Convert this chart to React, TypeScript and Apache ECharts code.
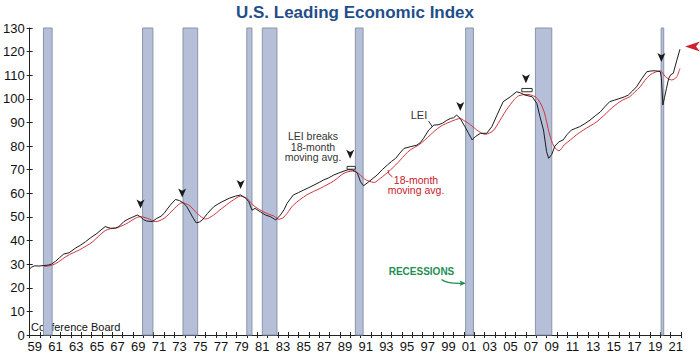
import React, { useEffect, useRef } from "react";
import * as echarts from "echarts";

const yearLabels: string[] = [];
for (let y = 1959; y <= 2021; y++) yearLabels.push(String(y % 100).padStart(2, "0"));

const recessionStarts = [1960.33, 1969.92, 1973.83, 1980.0, 1981.5, 1990.5, 2001.17, 2007.92, 2020.08];
const recessionEnds = [1961.17, 1970.92, 1975.25, 1980.5, 1982.92, 1991.25, 2001.92, 2009.5, 2020.33];

const leiYears = [
  1959.0, 1959.2, 1959.5, 1959.9, 1960.3, 1960.8, 1961.1, 1961.5, 1961.9, 1962.3, 1962.8, 1963.4, 1963.9,
  1964.4, 1964.9, 1965.5, 1965.9, 1966.3, 1966.8, 1967.3, 1967.6, 1968.1, 1968.5, 1968.9, 1969.4, 1969.7,
  1970.0, 1970.3, 1970.85, 1971.3, 1971.7, 1972.0, 1972.3, 1972.6, 1973.1, 1973.5, 1973.9, 1974.2, 1974.5,
  1974.75, 1975.1, 1975.4, 1975.7, 1976.2, 1976.8, 1977.2, 1977.6, 1978.3, 1978.9, 1979.4, 1979.9, 1980.2,
  1980.5, 1980.8, 1981.3, 1981.8, 1982.3, 1982.8, 1983.25, 1983.6, 1983.9, 1984.5, 1985.0, 1985.5, 1986.0,
  1986.5, 1987.0, 1987.4, 1987.9, 1988.4, 1988.9, 1989.4, 1989.8, 1990.2, 1990.5, 1990.7, 1991.0, 1991.3,
  1991.8, 1992.2, 1992.6, 1993.1, 1993.6, 1994.0, 1994.4, 1994.8, 1995.2, 1995.8, 1996.45, 1996.8, 1997.1,
  1997.6, 1998.1, 1998.5, 1998.9, 1999.3, 1999.7, 2000.0, 2000.3, 2000.65, 2001.1, 2001.45, 2001.8, 2002.1,
  2002.6, 2003.2, 2003.7, 2004.2, 2004.8, 2005.5, 2006.1, 2006.5, 2006.9, 2007.6, 2008.05, 2008.36, 2008.7,
  2009.0, 2009.2, 2009.5, 2009.8, 2010.2, 2010.6, 2011.0, 2011.4, 2011.8, 2012.2, 2012.7, 2013.2, 2013.7,
  2014.2, 2014.6, 2015.1, 2015.6, 2016.1, 2016.5, 2016.9, 2017.3, 2017.7, 2018.2, 2018.7, 2019.1, 2019.5,
  2020.0, 2020.1, 2020.25, 2020.4, 2020.6, 2020.8, 2021.0, 2021.25, 2021.6, 2021.9,
];
const leiValues = [
  28.0, 28.8, 29.3, 29.2, 29.4, 29.6, 30.0, 31.2, 32.8, 34.3, 34.8, 36.7, 38.0,
  39.5, 41.2, 43.0, 44.5, 45.9, 45.2, 45.3, 45.8, 48.0, 49.0, 49.8, 50.8, 50.1,
  48.9, 48.3, 48.0, 49.4, 50.3, 51.5, 53.3, 55.0, 57.4, 56.9, 55.8, 54.3, 52.0,
  50.0, 47.5, 47.8, 48.7, 51.5, 54.3, 55.4, 56.4, 57.9, 58.8, 59.3, 57.9, 56.4,
  52.9, 53.6, 52.2, 50.8, 50.1, 48.7, 50.8, 53.0, 55.8, 59.3, 60.3, 61.4, 62.4,
  63.5, 64.6, 65.6, 66.5, 67.7, 68.6, 69.4, 70.0, 69.9, 69.3, 68.5, 64.9, 63.2,
  64.9, 66.3, 67.7, 70.0, 72.0, 73.5, 74.8, 77.0, 79.0, 79.7, 80.4, 81.5, 83.3,
  86.8, 88.9, 89.0, 89.6, 90.8, 91.7, 92.0, 93.1, 91.7, 88.2, 85.4, 82.6, 84.0,
  85.4, 85.4, 88.2, 93.1, 98.8, 100.9, 103.0, 102.5, 101.6, 100.9, 98.1, 92.4, 86.8,
  77.6, 74.8, 76.5, 80.0, 81.8, 82.6, 85.0, 86.8, 87.5, 88.2, 89.5, 91.0, 92.8,
  94.5, 96.5, 98.8, 99.5, 100.2, 100.8, 101.6, 103.3, 105.1, 108.5, 111.5, 111.8, 111.9,
  111.5, 109.0, 97.4, 100.5, 104.5, 108.5, 110.2, 110.8, 116.4, 121.0,
];

const maYears = [
  1960.4, 1961.2, 1961.8, 1962.5, 1963.2, 1963.8, 1964.5, 1965.1, 1965.7, 1966.3, 1966.8, 1967.3, 1967.8,
  1968.3, 1968.8, 1969.2, 1969.7, 1970.4, 1971.2, 1972.0, 1972.5, 1973.0, 1973.75, 1974.4, 1974.8, 1975.2,
  1975.6, 1976.0, 1976.8, 1977.3, 1977.8, 1978.3, 1978.7, 1979.4, 1980.0, 1980.4, 1980.8, 1981.6, 1982.1,
  1982.6, 1983.1, 1983.5, 1983.9, 1984.5, 1985.8, 1987.1, 1988.4, 1989.4, 1990.2, 1990.6, 1991.0, 1991.4,
  1991.8, 1992.3, 1992.9, 1993.4, 1993.9, 1994.4, 1994.85, 1995.3, 1995.8, 1996.6, 1997.2, 1997.75, 1998.2,
  1998.7, 1999.2, 1999.7, 2000.2, 2000.65, 2001.0, 2001.45, 2001.85, 2002.25, 2002.6, 2003.05, 2003.5, 2003.9,
  2004.3, 2004.7, 2005.1, 2005.5, 2005.9, 2006.3, 2007.1, 2007.9, 2008.2, 2008.5, 2008.8, 2009.0, 2009.3,
  2009.7, 2010.2, 2010.7, 2011.3, 2011.9, 2012.55, 2013.2, 2013.85, 2014.5, 2015.1, 2015.6, 2016.1, 2016.6,
  2017.05, 2017.5, 2018.05, 2018.5, 2019.0, 2019.5, 2020.0, 2020.2, 2020.5, 2020.8, 2021.1, 2021.35, 2021.6,
  2021.9,
];
const maValues = [
  29.0, 29.6, 31.0, 33.2, 34.8, 36.0, 37.8, 39.5, 42.0, 44.2, 45.0, 45.2, 46.0,
  47.0, 48.3, 49.4, 50.1, 49.4, 48.0, 49.4, 51.3, 53.6, 56.0, 55.0, 53.3, 51.5,
  50.0, 49.1, 50.8, 52.6, 54.3, 56.0, 57.2, 58.8, 57.9, 56.0, 54.3, 52.2, 51.2,
  50.4, 49.0, 49.6, 51.5, 55.0, 59.3, 62.1, 65.2, 68.5, 69.4, 69.0, 67.7, 66.0,
  65.2, 64.6, 66.3, 68.0, 69.9, 72.0, 74.1, 76.3, 78.3, 80.4, 82.5, 84.7, 86.5,
  88.2, 89.4, 90.3, 91.2, 91.7, 90.8, 89.6, 88.2, 86.8, 85.8, 85.0, 85.6, 86.8,
  89.5, 92.4, 95.2, 97.6, 99.8, 101.3, 101.9, 100.9, 99.5, 97.4, 94.0, 90.3, 84.7,
  80.0, 78.0, 80.5, 82.6, 84.8, 86.8, 88.5, 90.3, 92.8, 95.3, 97.2, 98.8, 100.0,
  100.9, 102.8, 105.1, 107.8, 110.1, 111.3, 111.9, 111.0, 109.4, 108.4, 108.0, 108.4, 109.4,
  112.9,
];

// signal arrows (year, value) where LEI breaks its moving average
const signalYears = [1969.72, 1973.75, 1979.4, 1990.0, 2000.65, 2007.0, 2020.1];
const signalValues = [53.6, 58.2, 61.8, 74.6, 94.9, 106.6, 115.6];

// bracket boxes (start year, end year, low value, high value)
const bracketStart = [1989.7, 2006.6];
const bracketEnd = [1990.5, 2007.6];
const bracketLow = [70.2, 103.0];
const bracketHigh = [71.4, 104.4];

const FONT = "'Liberation Sans', Arial, Helvetica, sans-serif";

export default function App() {
  const ref = useRef<HTMLDivElement>(null);
  useEffect(() => {
    if (!ref.current) return;
    const chart = echarts.init(ref.current, undefined, { renderer: "svg" });
    const lei = leiYears.map((y, i) => [y, leiValues[i]]);
    const ma = maYears.map((y, i) => [y, maValues[i]]);
    const recAreas = recessionStarts.map((s, i) => [{ xAxis: s }, { xAxis: recessionEnds[i] }]);
    const brackets = bracketStart.map((s, i) => [
      { coord: [s, bracketLow[i]] },
      { coord: [bracketEnd[i], bracketHigh[i]] },
    ]);
    const arrows = signalYears.map((y, i) => ({ coord: [y, signalValues[i]] }));

    chart.setOption({
      animation: false,
      textStyle: { fontFamily: FONT },
      grid: { left: 29, right: 19, top: 28, bottom: 20, containLabel: false },
      xAxis: [
        {
          type: "category",
          data: yearLabels,
          boundaryGap: true,
          position: "bottom",
          axisLine: { lineStyle: { color: "#222", width: 1 } },
          axisTick: { show: true, length: 3, interval: 0, alignWithLabel: false, lineStyle: { color: "#222" } },
          axisLabel: { interval: 1, fontSize: 13, color: "#111", margin: 5, fontFamily: FONT },
          splitLine: { show: false },
        },
        {
          type: "value",
          min: 1959,
          max: 2022,
          interval: 1,
          position: "bottom",
          axisLine: { show: false },
          axisTick: { show: true, inside: true, length: 3, lineStyle: { color: "#222" } },
          axisLabel: { show: false },
          splitLine: { show: false },
        },
      ],
      yAxis: [
        {
          type: "value",
          min: 0,
          max: 130,
          interval: 10,
          position: "left",
          axisLine: { show: true, lineStyle: { color: "#222", width: 1 } },
          axisTick: { show: true, length: 3, lineStyle: { color: "#222" } },
          axisLabel: { fontSize: 13, color: "#111", margin: 5, fontFamily: FONT },
          splitLine: { show: false },
        },
        {
          type: "value",
          min: 0,
          max: 130,
          interval: 10,
          position: "left",
          axisLine: { show: false },
          axisTick: { show: true, inside: true, length: 3, lineStyle: { color: "#222" } },
          axisLabel: { show: false },
          splitLine: { show: false },
        },
      ],
      series: [
        {
          name: "Recessions",
          type: "line",
          xAxisIndex: 1,
          yAxisIndex: 0,
          data: [],
          z: 1,
          silent: true,
          markArea: {
            silent: true,
            itemStyle: { color: "#b5c0d8", borderColor: "#8a94aa", borderWidth: 1 },
            data: recAreas,
          },
        },
        {
          name: "18-month moving avg.",
          type: "line",
          xAxisIndex: 1,
          yAxisIndex: 0,
          data: ma,
          showSymbol: false,
          symbol: "none",
          smooth: 0.3,
          z: 3,
          lineStyle: { color: "#d2343c", width: 1 },
          itemStyle: { color: "#d2343c" },
          markArea: {
            silent: true,
            itemStyle: { color: "rgba(255,255,255,0.4)", borderColor: "#333", borderWidth: 1 },
            data: brackets,
          },
        },
        {
          name: "LEI",
          type: "line",
          xAxisIndex: 1,
          yAxisIndex: 0,
          data: lei,
          showSymbol: false,
          symbol: "none",
          z: 4,
          lineStyle: { color: "#1b1b1b", width: 1 },
          itemStyle: { color: "#1b1b1b" },
          markPoint: {
            silent: true,
            symbol: "arrow",
            symbolSize: [6, 9],
            symbolRotate: 180,
            label: { show: false },
            itemStyle: { color: "#1b1b1b" },
            data: arrows,
          },
        },
      ],
      graphic: [
        {
          type: "text",
          x: 355,
          y: 12,
          style: {
            text: "U.S. Leading Economic Index",
            font: `bold 17px ${FONT}`,
            fill: "#1f4e8a",
            textAlign: "center",
            textVerticalAlign: "middle",
          },
        },
        {
          type: "text",
          x: 31,
          y: 327,
          style: { text: "Conference Board", font: `11px ${FONT}`, fill: "#111", textAlign: "left", textVerticalAlign: "middle" },
        },
        {
          type: "text",
          x: 313,
          y: 146.5,
          style: {
            text: "LEI breaks\n18-month\nmoving avg.",
            font: `10.5px ${FONT}`,
            lineHeight: 10.5,
            fill: "#333",
            textAlign: "center",
            textVerticalAlign: "middle",
          },
        },
        {
          type: "text",
          x: 419,
          y: 115,
          style: { text: "LEI", font: `11px ${FONT}`, fill: "#333", textAlign: "center", textVerticalAlign: "middle" },
        },
        { type: "line", shape: { x1: 428.5, y1: 121, x2: 432.5, y2: 127 }, style: { stroke: "#333", lineWidth: 1 } },
        {
          type: "text",
          x: 416,
          y: 185,
          style: {
            text: "18-month\nmoving avg.",
            font: `10.5px ${FONT}`,
            lineHeight: 10.5,
            fill: "#c8202a",
            textAlign: "center",
            textVerticalAlign: "middle",
          },
        },
        {
          type: "bezierCurve",
          shape: { x1: 388, y1: 170, x2: 392.5, y2: 177, cpx1: 387.5, cpy1: 174 },
          style: { stroke: "#c8202a", lineWidth: 1, fill: "none" },
        },
        {
          type: "text",
          x: 421.5,
          y: 271.5,
          style: { text: "RECESSIONS", font: `bold 10px ${FONT}`, fill: "#1f8f55", textAlign: "center", textVerticalAlign: "middle" },
        },
        {
          type: "bezierCurve",
          shape: { x1: 441.5, y1: 279.5, x2: 461, y2: 283.3, cpx1: 446, cpy1: 283.5 },
          style: { stroke: "#1f8f55", lineWidth: 1.2, fill: "none" },
        },
        {
          type: "polygon",
          shape: { points: [[466, 283.3], [459.5, 280.6], [461, 283.3], [459.5, 286]] },
          style: { fill: "#1f8f55" },
        },
        {
          type: "polygon",
          shape: { points: [[685, 46.5], [700, 41.5], [696, 46.5], [700, 51.5]] },
          style: { fill: "#d0202e" },
        },
      ],
    });
    return () => chart.dispose();
  }, []);
  return (
    <div
      ref={ref}
      style={{ position: "fixed", left: 0, top: 0, width: 700, height: 355, background: "#fff" }}
    />
  );
}
